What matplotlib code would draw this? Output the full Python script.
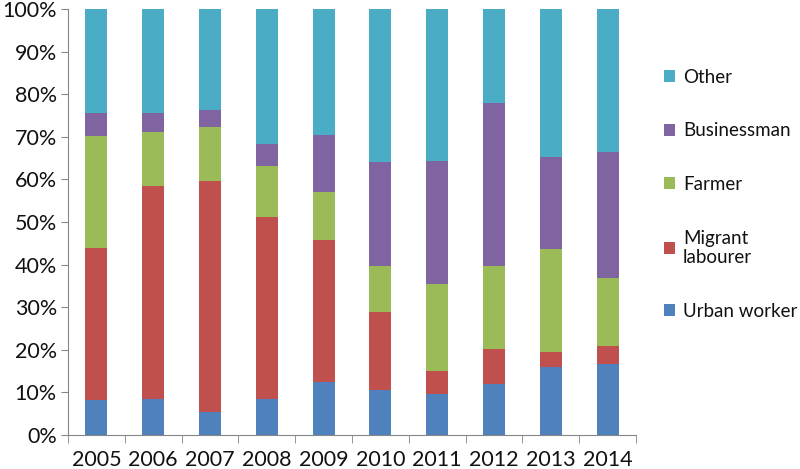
import numpy as np
import matplotlib.pyplot as plt

plt.rcParams['font.family'] = ['Lato', 'DejaVu Sans']

years = ['2005', '2006', '2007', '2008', '2009', '2010', '2011', '2012', '2013', '2014']

# shares in %
urban = [8.2, 8.5, 5.5, 8.5, 12.4, 10.6, 9.6, 11.9, 16.0, 16.6]
migrant = [35.8, 50.0, 54.1, 42.7, 33.4, 18.2, 5.5, 8.4, 3.5, 4.3]
farmer = [26.2, 12.7, 12.7, 11.9, 11.2, 10.8, 20.3, 19.3, 24.1, 16.0]
business = [5.3, 4.3, 4.0, 5.2, 13.4, 24.4, 29.0, 38.3, 21.6, 29.5]
other = [24.5, 24.5, 23.7, 31.7, 29.6, 36.0, 35.6, 22.1, 34.8, 33.6]

series = [
    ('Urban worker', urban, '#4F81BD'),
    ('Migrant\nlabourer', migrant, '#C0504D'),
    ('Farmer', farmer, '#9BBB59'),
    ('Businessman', business, '#8064A2'),
    ('Other', other, '#4BACC6'),
]

fig = plt.figure(figsize=(8, 4.69), dpi=100)
ax = fig.add_axes([0.085, 0.0725, 0.71, 0.908])

x = np.arange(len(years))
bottom = np.zeros(len(years))
for name, vals, col in series:
    vals = np.array(vals)
    ax.bar(x, vals, 0.39, bottom=bottom, color=col, label=name)
    bottom += vals

ax.set_xlim(-0.5, len(years) - 0.5)
ax.set_ylim(0, 100)
ax.set_yticks(np.arange(0, 101, 10))
ax.set_yticklabels([f'{v}%' for v in range(0, 101, 10)])
ax.set_xticks(x)
ax.set_xticklabels(years)
ax.set_xticks(np.arange(-0.5, len(years)), minor=True)
ax.tick_params(axis='x', which='major', length=0, pad=11)
ax.tick_params(axis='x', which='minor', length=6, color='#868686')
ax.tick_params(axis='y', length=5, color='#868686', pad=3)
ax.tick_params(labelsize=15.5, labelcolor='#111111')

for s in ['top', 'right']:
    ax.spines[s].set_visible(False)
for s in ['left', 'bottom']:
    ax.spines[s].set_color('#868686')

h, l = ax.get_legend_handles_labels()
ax.legend(h[::-1], l[::-1], loc='center left', bbox_to_anchor=(1.02, 0.565),
          frameon=False, fontsize=13.5, handlelength=0.6, handleheight=0.6,
          handletextpad=0.4, labelspacing=1.95, labelcolor='#111111')

fig.savefig('out.png', dpi=100)
